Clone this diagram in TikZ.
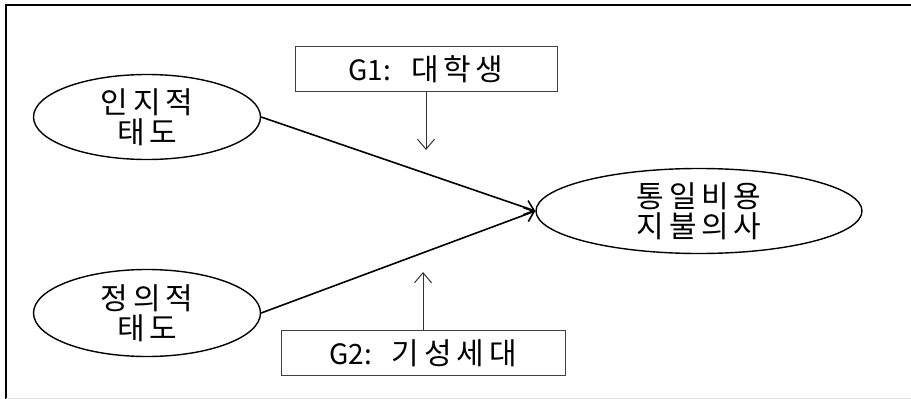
\documentclass[tikz,border=0pt]{standalone}
\usepackage{fontspec}
\setmainfont{Noto Sans CJK KR}
\newfontfamily\hangul{Noto Sans CJK KR}[LetterSpace=16]
\usetikzlibrary{arrows.meta, shapes.geometric}

\tikzset{
  latent/.style={ellipse, draw, line width=1.4pt, inner sep=0pt,
    align=center, font=\fontsize{30}{30}\hangul},
  group/.style={rectangle, draw=black!75, line width=0.9pt, inner sep=0pt,
    minimum height=45pt, font=\fontsize{30}{30}\hangul},
  path/.style={line width=1.6pt, -{Straight Barb[length=9pt,width=15pt,line width=1.6pt]}},
  moder/.style={line width=1pt, draw=black!80, -{Straight Barb[length=10pt,width=17pt,line width=1pt]}}
}
\newcommand\glab[1]{{\rmfamily\fontsize{28}{30}\selectfont #1}\hspace{20pt}}

\begin{document}
\begin{tikzpicture}[x=1pt, y=-1pt]
        \useasboundingbox (0,0) rectangle (911,399);

        % frame
        \draw[line width=2pt] (911,5) -- (6,5) -- (6,399);
        \draw[line width=1pt, black!12] (6,398) -- (911,398);

        % latent variables
        \node[latent, minimum width=227pt, minimum height=85pt] (cog) at (147,117) {인지적\\태도};
        \node[latent, minimum width=227pt, minimum height=87pt] (aff) at (147,313) {정의적\\태도};
        \node[latent, minimum width=326pt, minimum height=85pt] (wtp) at (699,211) {통일비용\\지불의사};

        % groups
        \node[group, minimum width=262pt] (g1) at (426,69) {\glab{G1:}대학생};
        \node[group, minimum width=284pt] (g2) at (423,353) {\glab{G2:}기성세대};
        \coordinate (m1) at (426,150);
        \coordinate (m2) at (g2.north |- 0,272);

        \draw[path] (cog.east) -- (wtp.west);
        \draw[path] (aff.east) -- (wtp.west);

        \draw[moder] (g1.south) -- (m1);
        \draw[moder] (g2.north) -- (m2);
\end{tikzpicture}
\end{document}
